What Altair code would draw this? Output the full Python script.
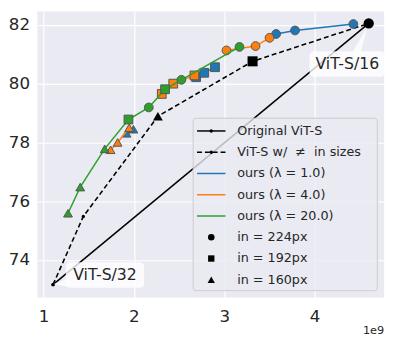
import altair as alt
import pandas as pd

# ---------------- data (x in units of 1e9 FLOPs, y = top-1 accuracy) ----------------
orig_x = [1.105, 4.60]
orig_y = [73.16, 82.05]

var_x = [1.105, 1.44, 2.266, 3.314, 4.60]
var_y = [73.16, 75.48, 78.89, 80.76, 82.05]
var_res = ["", "", "160", "192", "224"]

lam1_x = [1.919, 1.995, 2.689, 2.779, 2.898, 3.575, 3.784, 4.43]
lam1_y = [78.31, 78.45, 80.22, 80.37, 80.56, 81.69, 81.81, 82.03]
lam1_res = ["160", "160", "192", "192", "192", "224", "224", "224"]

lam4_x = [1.742, 1.82, 1.948, 2.309, 2.436, 2.67, 3.025, 3.347, 3.502]
lam4_y = [77.75, 78.0, 78.5, 79.65, 80.0, 80.28, 81.13, 81.28, 81.56]
lam4_res = ["160", "160", "160", "192", "192", "192", "224", "224", "224"]

lam20_x = [1.271, 1.406, 1.677, 1.94, 2.165, 2.345, 2.526, 3.169]
lam20_y = [75.59, 76.48, 77.78, 78.78, 79.19, 79.81, 80.13, 81.25]
lam20_res = ["160", "160", "160", "192", "224", "192", "224", "224"]

legend_labels = ["Original ViT-S", "ViT-S w/\u00a0\u00a0\u2260\u00a0\u00a0in sizes",
                 "ours (\u03bb = 1.0)", "ours (\u03bb = 4.0)", "ours (\u03bb = 20.0)",
                 "in = 224px", "in = 192px", "in = 160px"]
series_colors = ["#1f77b4", "#ff7f0e", "#2ca02c"]

ann_labels = ["ViT-S/32", "ViT-S/16"]
ann_x = [1.68, 4.363]
ann_y = [73.49, 80.67]

x_ticks = [1, 2, 3, 4]
y_ticks = [74, 76, 78, 80, 82]

# ---------------- layout ----------------
W, H = 354, 292
XMIN, XMAX = 0.9317, 4.771
YMIN, YMAX = 72.723, 82.457
PX = W / (XMAX - XMIN)
PY = H / (YMAX - YMIN)
FONT = "DejaVu Sans"
TXT = "#262626"

xs = alt.Scale(domain=[XMIN, XMAX], nice=False, zero=False)
ys = alt.Scale(domain=[YMIN, YMAX], nice=False, zero=False)
xa = alt.Axis(values=x_ticks, format="d", title=None, labelPadding=12)
ya = alt.Axis(values=y_ticks, format="d", title=None, labelPadding=8)
X = alt.X("x:Q", scale=xs, axis=xa)
Y = alt.Y("y:Q", scale=ys, axis=ya)

shape_scale = alt.Scale(domain=["224", "192", "160"], range=["circle", "square", "triangle-up"])

layers = []

# Original ViT-S (solid)
orig = pd.DataFrame({"x": orig_x, "y": orig_y})
layers.append(alt.Chart(orig).mark_line(color="black", strokeWidth=1.5).encode(x=X, y=Y))
layers.append(alt.Chart(orig).mark_point(filled=True, color="black", size=12, opacity=1).encode(x=X, y=Y))

# ViT-S with different input sizes (dashed)
var = pd.DataFrame({"x": var_x, "y": var_y, "res": var_res})
layers.append(alt.Chart(var).mark_line(color="black", strokeWidth=1.6, strokeDash=[5, 3]).encode(x=X, y=Y))
layers.append(alt.Chart(var).mark_point(filled=True, color="black", size=12, opacity=1).encode(x=X, y=Y))
big = var[var["res"] != ""]
size_scale = alt.Scale(domain=["224", "192", "160"], range=[110, 100, 120])
layers.append(alt.Chart(big).mark_point(filled=True, color="black", opacity=1).encode(
    x=X, y=Y,
    shape=alt.Shape("res:N", scale=shape_scale, legend=None),
    size=alt.Size("res:N", scale=size_scale, legend=None)))

# ours
for (lx, ly, lr, col, joined) in [
    (lam1_x, lam1_y, lam1_res, series_colors[0], False),
    (lam4_x, lam4_y, lam4_res, series_colors[1], False),
    (lam20_x, lam20_y, lam20_res, series_colors[2], True),
]:
    d = pd.DataFrame({"x": lx, "y": ly, "res": lr})
    d["seg"] = "all" if joined else d["res"]
    d["o"] = range(len(d))
    layers.append(alt.Chart(d).mark_line(color=col, strokeWidth=1.5).encode(
        x=X, y=Y, detail="seg:N", order="o:Q"))
    layers.append(alt.Chart(d).mark_point(filled=True, fill=col, stroke="#555555",
                                          strokeWidth=1, size=80, opacity=1).encode(
        x=X, y=Y, shape=alt.Shape("res:N", scale=shape_scale, legend=None)))

# annotations (ViT-S/32, ViT-S/16)
box_w = [80, 77]
box_h = [26, 26]
ann = pd.DataFrame({"x": ann_x, "y": ann_y, "label": ann_labels})
ann["x1"] = [ann_x[i] - box_w[i] / 2 / PX for i in range(2)]
ann["x2"] = [ann_x[i] + box_w[i] / 2 / PX for i in range(2)]
ann["y1"] = [ann_y[i] - box_h[i] / 2 / PY for i in range(2)]
ann["y2"] = [ann_y[i] + box_h[i] / 2 / PY for i in range(2)]

# arrows (wedges) from boxes to the points
wedge = pd.DataFrame({
    "x": [1.257, 1.12, 4.467, 4.575],
    "y": [73.22, 73.18, 81.06, 81.85],
    "w": [8, 0.5, 8, 0.5],
    "g": ["a", "a", "b", "b"],
})
layers.append(alt.Chart(wedge).mark_trail(color="white", opacity=0.8).encode(
    x=X, y=Y, size=alt.Size("w:Q", scale=None, legend=None), detail="g:N"))
layers.append(alt.Chart(ann).mark_rect(color="white", opacity=0.8, cornerRadius=4).encode(
    x=alt.X("x1:Q", scale=xs, axis=xa), x2="x2:Q",
    y=alt.Y("y1:Q", scale=ys, axis=ya), y2="y2:Q"))
layers.append(alt.Chart(ann).mark_text(font=FONT, fontSize=16, color=TXT).encode(
    x=X, y=Y, text="label:N"))

# legend (drawn manually)
LX0, LY0, STEP = 159, 109, 21.7
leg = pd.DataFrame({"label": legend_labels})
leg["py"] = [LY0 + 13 + i * STEP for i in range(len(legend_labels))]
leg["col"] = ["black", "black"] + series_colors + ["black"] * 3
leg["shape"] = ["circle", "circle", "", "", "", "circle", "square", "triangle-up"]
leg["sz"] = [12, 12, 0, 0, 0, 45, 42, 55]
box = pd.DataFrame({"a": [0]})
layers.append(alt.Chart(box).mark_rect(fill="#EAEAF2", fillOpacity=0.8, stroke="#cccccc",
                                       strokeWidth=1, cornerRadius=3).encode(
    x=alt.value(LX0), x2=alt.value(LX0 + 188), y=alt.value(LY0), y2=alt.value(LY0 + 176)))
PYE = alt.Y("py:Q", scale=None, axis=None)
solid = leg.iloc[[0, 2, 3, 4]]
layers.append(alt.Chart(solid).mark_rule(strokeWidth=1.5).encode(
    x=alt.value(LX0 + 4), x2=alt.value(LX0 + 33), y=PYE,
    color=alt.Color("col:N", scale=None)))
layers.append(alt.Chart(leg.iloc[[1]]).mark_rule(strokeWidth=1.5, strokeDash=[5, 3], color="black").encode(
    x=alt.value(LX0 + 4), x2=alt.value(LX0 + 33), y=PYE))
syms = leg[leg["shape"] != ""]
layers.append(alt.Chart(syms).mark_point(filled=True, opacity=1, color="black").encode(
    x=alt.value(LX0 + 18.5), y=PYE,
    shape=alt.Shape("shape:N", scale=None),
    size=alt.Size("sz:Q", scale=None)))
layers.append(alt.Chart(leg).mark_text(font=FONT, fontSize=13, color=TXT, align="left",
                                       baseline="middle").encode(
    x=alt.value(LX0 + 45), y=PYE, text="label:N"))

# offset text
layers.append(alt.Chart(box).mark_text(text="1e9", font=FONT, fontSize=11.5, color=TXT,
                                       align="right", baseline="middle").encode(
    x=alt.value(W), y=alt.value(H + 34)))

chart = alt.layer(*layers).properties(
    width=W, height=H,
    autosize=alt.AutoSizeParams(type="none"),
    padding={"left": 30, "top": 0, "right": 8, "bottom": 47},
    background="white",
).configure(font=FONT).configure_view(fill="#EAEAF2", stroke=None).configure_axis(
    grid=True, gridColor="white", gridWidth=1.2, domain=False, ticks=False,
    labelFontSize=17, labelColor=TXT, labelFont=FONT,
)

chart.save("out.html", embed_options={"renderer": "svg", "actions": False})
